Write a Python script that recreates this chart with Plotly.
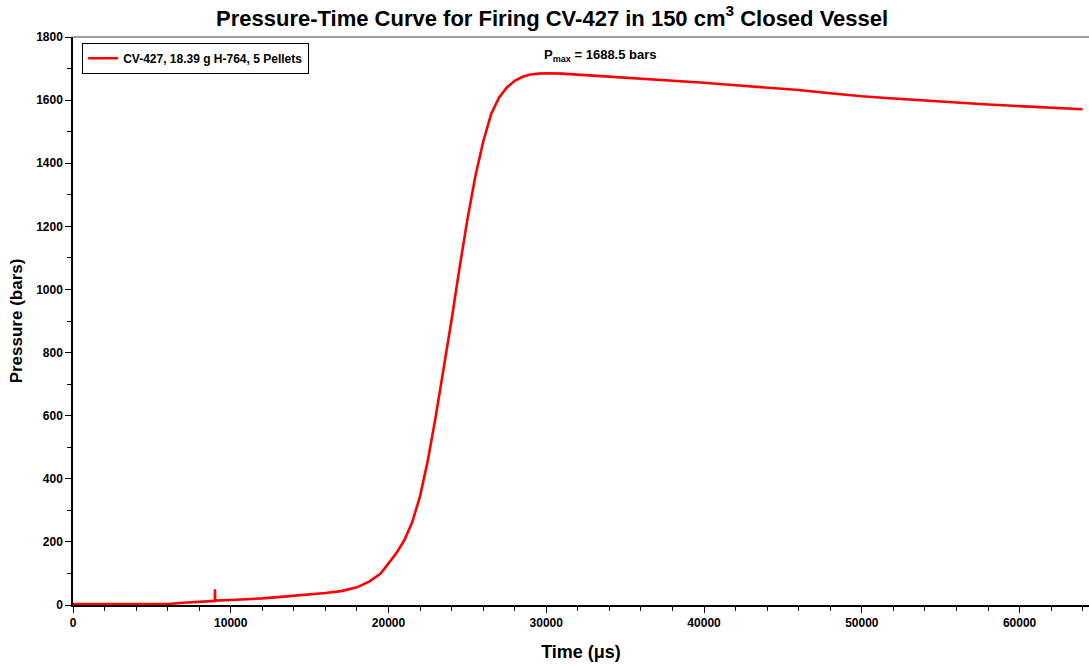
import plotly.graph_objects as go

# Data
time_us = [0, 1000, 2000, 3000, 4000, 5000, 6000, 7000, 8000, 8990, 9000, 9010,
           10000, 11000, 12000, 13000, 14000, 15000, 16000, 17000, 18000, 18800,
           19500, 20000, 20500, 21000, 21500, 22000, 22500, 23000, 23500, 24000,
           24500, 25000, 25500, 26000, 26500, 27000, 27500, 28000, 28500, 29000,
           29500, 30000, 31000, 32000, 34000, 36000, 38000, 40000, 42000, 44000,
           46000, 48000, 50000, 52000, 54000, 56000, 58000, 60000, 62000, 64000]
pressure_bars = [3, 3, 2, 1, 1, 2, 3, 7, 10, 13, 50, 14,
                 16, 18, 21, 25, 29, 33, 38, 44, 56, 75,
                 100, 132, 165, 205, 262, 345, 460, 600, 750, 905,
                 1068, 1222, 1358, 1468, 1555, 1608, 1640, 1661, 1674, 1681,
                 1684, 1685, 1684, 1681, 1674, 1669, 1662, 1655, 1647, 1640,
                 1632, 1622, 1612, 1605, 1598, 1592, 1586, 1581, 1576, 1571]

series_name = "CV-427, 18.39 g H-764, 5 Pellets"
title_text = "Pressure-Time Curve for Firing CV-427 in 150 cm<sup>3</sup> Closed Vessel"
pmax_text = "P<sub>max</sub> = 1688.5 bars"
x_title = "Time (\u03bcs)"
y_title = "Pressure (bars)"

FONT = "Liberation Sans, Arial, sans-serif"

fig = go.Figure()
fig.add_trace(go.Scatter(
    x=time_us, y=pressure_bars, mode="lines", name=series_name,
    line=dict(color="#ff0000", width=2.6),
))

fig.update_layout(
    width=1089, height=666,
    margin=dict(l=73, r=0, t=37, b=61, autoexpand=False),
    paper_bgcolor="white", plot_bgcolor="white",
    font=dict(family=FONT, size=12, color="black"),
    title=dict(text="<b>" + title_text + "</b>", x=0.507, xanchor="center",
               y=0.973, yanchor="middle",
               font=dict(family=FONT, size=22, color="black")),
    showlegend=True,
    legend=dict(x=0.009, y=0.99, xanchor="left", yanchor="top",
                bgcolor="white", bordercolor="black", borderwidth=1,
                font=dict(family=FONT, size=12, color="black", weight="bold"),
                itemwidth=30, tracegroupgap=0),
)

fig.update_xaxes(
    range=[0, 64400], tickmode="linear", tick0=0, dtick=10000, tickformat="d",
    showgrid=False, zeroline=False, automargin=False,
    showline=True, linecolor="black", linewidth=1.5,
    ticks="outside", ticklen=6, tickcolor="black", tickwidth=1,
    minor=dict(dtick=2000, ticks="outside", ticklen=4, tickcolor="black"),
    tickfont=dict(family=FONT, size=12, color="black", weight="bold"),
    title=dict(text="<b>" + x_title + "</b>", standoff=16,
               font=dict(family=FONT, size=18, color="black")),
)
fig.update_yaxes(
    range=[0, 1800], tickmode="linear", tick0=0, dtick=200, tickformat="d",
    showgrid=False, zeroline=False, automargin=False,
    showline=True, linecolor="black", linewidth=1.5,
    ticks="outside", ticklen=6, tickcolor="black", tickwidth=1,
    minor=dict(dtick=100, ticks="outside", ticklen=4, tickcolor="black"),
    tickfont=dict(family=FONT, size=12, color="black", weight="bold"),
    title=dict(text="<b>" + y_title + "</b>", standoff=9,
               font=dict(family=FONT, size=17, color="black")),
)

# gray frame line along the top of the plot area
fig.add_shape(type="line", xref="paper", yref="paper", x0=0, x1=1, y0=1, y1=1,
              line=dict(color="#a0a0a0", width=2))

fig.add_annotation(text="<b>" + pmax_text + "</b>", xref="paper", yref="paper",
                   x=0.519, y=0.968, xanchor="center", yanchor="middle",
                   showarrow=False, font=dict(family=FONT, size=13, color="black"))

fig.write_html("out.html", config={"displayModeBar": False},
               post_script="document.body.style.margin='0';")
